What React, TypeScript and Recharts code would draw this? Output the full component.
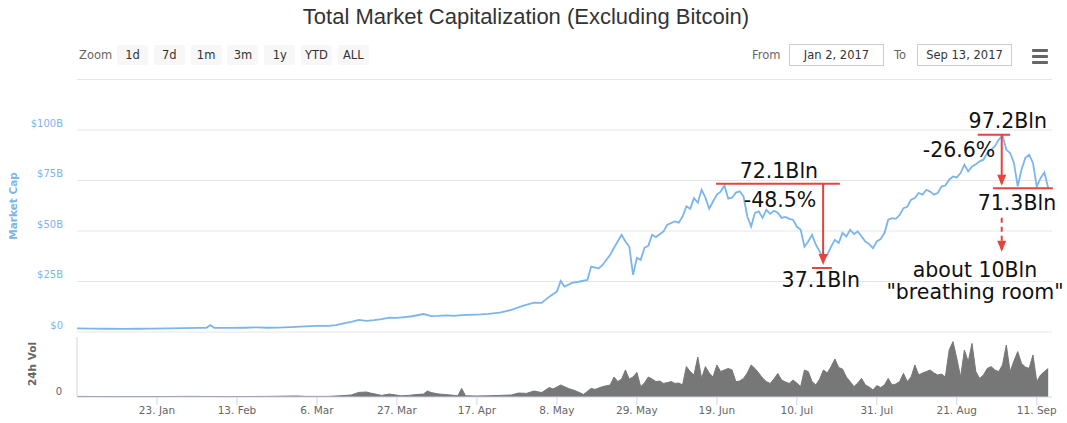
import React from 'react'
import {
  LineChart,
  Line,
  AreaChart,
  Area,
  XAxis,
  YAxis,
  CartesianGrid,
  ReferenceLine,
  ReferenceDot,
} from 'recharts'

// days counted from 2 Jan 2017
const capDays = [
  0, 4, 8, 12, 16, 20, 24, 28, 32, 34, 35, 36, 40, 44, 47, 50, 53, 56, 60, 63,
  66, 68, 70, 72, 74, 76, 78, 80, 82, 84, 86, 88, 91, 93, 95, 97, 99, 101, 103, 106,
  108, 111, 114, 117, 120, 122, 124, 126, 127, 128, 130, 132, 134, 135, 137, 138, 140, 141, 143, 144,
  145, 146, 147, 148, 149, 150, 151, 152, 154, 155, 157, 158, 159, 160, 161, 162, 163, 164, 165, 166,
  167, 168, 169, 170, 171, 172, 173, 174, 175, 176, 177, 178, 179, 180, 181, 182, 183, 184, 185, 186,
  187, 188, 189, 190, 191, 192, 193, 194, 195, 196, 197, 198, 199, 200, 201, 202, 203, 204, 205, 206,
  207, 208, 209, 210, 211, 212, 213, 214, 215, 216, 217, 218, 219, 220, 221, 222, 223, 224, 225, 226,
  227, 228, 229, 230, 231, 232, 233, 234, 235, 236, 237, 238, 239, 240, 241, 242, 243, 244, 245, 246,
  247, 248, 249, 250, 251, 252, 253, 254, 255,
]
// market cap, $B
const capValues = [
  1.8, 1.7, 1.6, 1.5, 1.6, 1.7, 1.8, 1.9, 2.0, 2.1, 3.4, 2.1, 2.0, 2.1, 2.3, 2.1, 2.2, 2.4, 2.8, 3.0,
  3.0, 3.4, 4.3, 5.0, 6.0, 5.5, 5.9, 6.4, 7.1, 7.0, 7.4, 7.8, 8.9, 7.9, 8.0, 8.2, 8.0, 8.4, 8.5, 8.7,
  9.0, 9.6, 10.9, 12.9, 14.5, 14.4, 17.5, 20.0, 25.3, 22.5, 24.3, 25.0, 25.8, 32.4, 31.5, 33.2, 38.2, 41.7, 48.1, 44.8,
  42.3, 28.3, 36.7, 35.7, 41.7, 42.7, 48.1, 47.0, 49.8, 53.1, 54.7, 54.1, 57.2, 62.2, 61.0, 66.3, 64.0, 70.4, 66.5, 61.0,
  64.6, 68.0, 69.5, 72.4, 66.0, 66.5, 69.0, 69.6, 67.1, 57.2, 52.2, 59.0, 59.7, 56.5, 60.5, 58.5, 60.0, 59.0, 56.5, 57.0,
  56.0, 55.6, 52.2, 50.6, 42.3, 44.8, 48.1, 43.2, 39.8, 36.0, 38.2, 42.3, 45.6, 44.1, 49.1, 47.3, 50.6, 48.5, 49.8, 47.3,
  44.8, 43.5, 41.5, 44.8, 46.0, 49.0, 55.6, 56.4, 56.0, 58.0, 61.3, 62.0, 65.5, 66.3, 68.8, 68.0, 70.4, 69.5, 68.0, 68.8,
  72.0, 72.5, 75.4, 77.0, 76.5, 78.7, 82.8, 79.5, 82.0, 83.0, 84.5, 85.3, 88.6, 90.3, 92.0, 95.2, 97.2, 90.3, 88.6, 83.8,
  72.1, 80.4, 86.2, 87.8, 83.7, 72.1, 76.2, 79.0, 71.3,
]

const volDays = [
  0, 10, 20, 30, 40, 50, 58, 60, 66, 69, 72, 74, 76, 77, 79, 80, 82, 85, 87, 89,
  91, 92, 93, 95, 98, 100, 101, 102, 105, 108, 111, 114, 116, 118, 120, 122, 124, 125, 127, 129,
  131, 133, 135, 136, 138, 140, 141, 142, 143, 144, 145, 146, 147, 148, 149, 150, 151, 152, 153, 154,
  155, 156, 157, 158, 159, 160, 161, 162, 163, 164, 165, 166, 167, 168, 169, 170, 171, 172, 173, 174,
  175, 176, 177, 178, 179, 180, 181, 182, 183, 184, 185, 186, 187, 188, 189, 190, 191, 192, 193, 194,
  195, 196, 197, 198, 199, 200, 201, 202, 203, 204, 205, 206, 207, 208, 209, 210, 211, 212, 213, 214,
  215, 216, 217, 218, 219, 220, 221, 222, 223, 224, 225, 226, 227, 228, 229, 230, 231, 232, 233, 234,
  235, 236, 237, 238, 239, 240, 241, 242, 243, 244, 245, 246, 247, 248, 249, 250, 251, 252, 253, 254,
  255,
]
// 24h volume, $B
const volValues = [
  0.03, 0.02, 0.02, 0.03, 0.02, 0.03, 0.05, 0.03, 0.03, 0.06, 0.1, 0.23, 0.25, 0.2, 0.12, 0.08, 0.15, 0.06, 0.08, 0.12,
  0.15, 0.3, 0.22, 0.15, 0.1, 0.06, 0.43, 0.06, 0.05, 0.06, 0.08, 0.1, 0.2, 0.18, 0.3, 0.22, 0.47, 0.4, 0.6, 0.43,
  0.3, 0.13, 0.43, 0.38, 0.52, 0.6, 1.0, 0.77, 0.9, 1.35, 0.9, 1.0, 1.23, 0.52, 0.7, 1.0, 0.9, 0.77, 0.8, 0.68,
  0.72, 0.77, 0.68, 0.7, 0.6, 1.52, 1.27, 1.1, 2.0, 0.93, 1.52, 1.2, 1.0, 1.6, 1.27, 1.35, 1.43, 1.35, 0.77, 0.8,
  0.93, 1.2, 1.6, 1.43, 1.2, 0.95, 0.77, 0.68, 0.9, 1.18, 0.85, 0.75, 0.68, 0.85, 0.7, 0.52, 1.35, 1.27, 0.77, 0.6,
  0.9, 1.35, 1.2, 1.52, 1.9, 1.47, 1.4, 1.0, 0.77, 0.52, 0.7, 0.93, 0.6, 0.5, 0.35, 0.57, 0.47, 0.6, 0.93, 0.6,
  0.65, 0.77, 1.18, 0.77, 1.0, 1.6, 1.1, 1.2, 1.27, 1.35, 1.2, 1.1, 1.15, 1.0, 2.35, 2.77, 1.93, 1.0, 2.35, 1.77,
  2.68, 1.27, 0.93, 1.1, 1.43, 1.52, 1.35, 1.27, 1.6, 2.6, 1.27, 1.8, 2.27, 1.68, 1.5, 1.43, 2.1, 0.77, 1.1, 1.27,
  1.43,
]

const tickDays = [21, 42, 63, 84, 105, 126, 147, 168, 189, 210, 231, 252]
const tickLabels = [
  '23. Jan', '13. Feb', '6. Mar', '27. Mar', '17. Apr', '8. May',
  '29. May', '19. Jun', '10. Jul', '31. Jul', '21. Aug', '11. Sep',
]
const capTicks = [0, 25, 50, 75, 100, 125]
const capTickLabels = ['$0', '$25B', '$50B', '$75B', '$100B', '']
const zoomButtons = ['1d', '7d', '1m', '3m', '1y', 'YTD', 'ALL']

// hand-drawn red annotations, in chart units (day, $B)
const redSegments = [
  [167.8, 73.4, 200.3, 73.4],
  [195.9, 73.4, 195.9, 34.5],
  [193, 31.7, 198.2, 31.7],
  [236.5, 97.7, 245, 97.7],
  [242.8, 97.7, 242.8, 73.5],
  [240.5, 71.2, 256.2, 71.2],
]
const arrowTips = [
  [195.9, 33.2],
  [242.8, 72.4],
  [242.8, 39.7],
]
const notes = [
  { text: '72.1Bln', day: 184.3, value: 76.4 },
  { text: '-48.5%', day: 184.6, value: 62.0 },
  { text: '37.1Bln', day: 195.3, value: 22.3 },
  { text: '97.2Bln', day: 244.4, value: 101.2 },
  { text: '-26.6%', day: 231.6, value: 86.8 },
  { text: '71.3Bln', day: 246.8, value: 60.5 },
  { text: 'about 10Bln', day: 235.8, value: 27.3 },
  { text: '"breathing room"', day: 235.8, value: 16.4 },
]

const capData = capDays.map((d, i) => ({ day: d, cap: capValues[i] }))
const volData = volDays.map((d, i) => ({ day: d, vol: volValues[i] }))

const UI_FONT = '"DejaVu Sans", Verdana, sans-serif'
const BLUE = '#7cb5ec'
const RED = '#e5443d'

const CapTick = (props: any) => {
  const idx = capTicks.indexOf(props.payload.value)
  return (
    <text x={63} y={props.y - 3.5} textAnchor="end" fill={BLUE} fontSize={10} fontFamily={UI_FONT}>
      {capTickLabels[idx]}
    </text>
  )
}

const VolTick = (props: any) => (
  <text x={62} y={props.y - 2} textAnchor="end" fill="#666" fontSize={10} fontFamily={UI_FONT}>
    {props.payload.value}
  </text>
)

const Arrowhead = (props: any) => (
  <path
    d={`M${props.cx},${props.cy} L${props.cx - 4.5},${props.cy - 11} L${props.cx + 4.5},${props.cy - 11} Z`}
    fill={RED}
  />
)

const noteShape = (text: string) => (props: any) => (
  <text x={props.cx} y={props.cy} textAnchor="middle" fill="#111" fontSize={20.5} fontFamily={UI_FONT}>
    {text}
  </text>
)

const abs = (s: React.CSSProperties): React.CSSProperties => ({ position: 'absolute', ...s })

export default function App() {
  return (
    <div style={abs({ left: 0, top: 0, width: 1067, height: 423, background: '#fff', overflow: 'hidden' })}>
      <div
        style={abs({
          left: 0,
          top: 6,
          width: 1052,
          textAlign: 'center',
          fontFamily: '"Liberation Sans", Arial, sans-serif',
          fontSize: 22,
          lineHeight: '22px',
          color: '#333',
        })}
      >
        Total Market Capitalization (Excluding Bitcoin)
      </div>

      <div style={abs({ left: 79, top: 45, lineHeight: '20px', fontSize: 11.5, fontFamily: UI_FONT, color: '#666' })}>
        Zoom
      </div>
      {zoomButtons.map((b, i) => (
        <div
          key={b}
          style={abs({
            left: 117 + i * 36.8,
            top: 45,
            width: 31,
            height: 20,
            lineHeight: '20px',
            textAlign: 'center',
            background: '#f7f7f7',
            borderRadius: 2,
            fontSize: 11.5,
            fontFamily: UI_FONT,
            color: '#333',
          })}
        >
          {b}
        </div>
      ))}

      <div style={abs({ left: 752, top: 45, lineHeight: '20px', fontSize: 11.5, fontFamily: UI_FONT, color: '#666' })}>
        From
      </div>
      <div
        style={abs({
          left: 789,
          top: 44,
          width: 93,
          height: 20,
          lineHeight: '20px',
          border: '1px solid #ccc',
          textAlign: 'center',
          fontSize: 11.5,
          fontFamily: UI_FONT,
          color: '#333',
        })}
      >
        Jan 2, 2017
      </div>
      <div style={abs({ left: 894, top: 45, lineHeight: '20px', fontSize: 11.5, fontFamily: UI_FONT, color: '#666' })}>
        To
      </div>
      <div
        style={abs({
          left: 917,
          top: 44,
          width: 93,
          height: 20,
          lineHeight: '20px',
          border: '1px solid #ccc',
          textAlign: 'center',
          fontSize: 11.5,
          fontFamily: UI_FONT,
          color: '#333',
        })}
      >
        Sep 13, 2017
      </div>
      {[48.5, 54.5, 60.5].map((t) => (
        <div key={t} style={abs({ left: 1032, top: t, width: 16, height: 3, background: '#666', borderRadius: 1 })} />
      ))}

      <div
        style={abs({
          left: 12.5,
          top: 206,
          transform: 'translate(-50%, -50%) rotate(-90deg)',
          whiteSpace: 'nowrap',
          fontWeight: 'bold',
          fontSize: 10.5,
          fontFamily: UI_FONT,
          color: BLUE,
        })}
      >
        Market Cap
      </div>
      <div
        style={abs({
          left: 32,
          top: 364,
          transform: 'translate(-50%, -50%) rotate(-90deg)',
          whiteSpace: 'nowrap',
          fontWeight: 'bold',
          fontSize: 10.5,
          fontFamily: UI_FONT,
          color: '#666',
        })}
      >
        24h Vol
      </div>

      <LineChart
        width={1067}
        height={340}
        data={capData}
        margin={{ top: 79.5, right: 15, bottom: 8, left: 0 }}
        style={abs({ left: 0, top: 0 })}
      >
        <CartesianGrid vertical={false} stroke="#e6e6e6" />
        <XAxis dataKey="day" type="number" domain={[0, 256]} hide />
        <YAxis
          type="number"
          domain={[0, 125]}
          ticks={capTicks}
          interval={0}
          width={77}
          axisLine={false}
          tickLine={false}
          tick={CapTick}
        />
        <Line
          type="linear"
          dataKey="cap"
          stroke={BLUE}
          strokeWidth={1.8}
          dot={false}
          isAnimationActive={false}
        />
        {redSegments.map((s, i) => (
          <ReferenceLine
            key={'s' + i}
            segment={[
              { x: s[0], y: s[1] },
              { x: s[2], y: s[3] },
            ]}
            stroke={RED}
            strokeWidth={2}
            ifOverflow="visible"
          />
        ))}
        <ReferenceLine
          segment={[
            { x: 242.8, y: 56.5 },
            { x: 242.8, y: 41 },
          ]}
          stroke={RED}
          strokeWidth={2}
          strokeDasharray="5 4"
          ifOverflow="visible"
        />
        {arrowTips.map((a, i) => (
          <ReferenceDot key={'a' + i} x={a[0]} y={a[1]} r={0} shape={Arrowhead} ifOverflow="visible" />
        ))}
        {notes.map((n) => (
          <ReferenceDot key={n.text} x={n.day} y={n.value} r={0} shape={noteShape(n.text)} ifOverflow="visible" />
        ))}
      </LineChart>

      <AreaChart
        width={1067}
        height={93}
        data={volData}
        margin={{ top: 7, right: 15, bottom: 0, left: 0 }}
        style={abs({ left: 0, top: 330 })}
      >
        <XAxis
          dataKey="day"
          type="number"
          domain={[0, 256]}
          ticks={tickDays}
          interval={0}
          height={26}
          tickSize={8}
          tickFormatter={(d: number) => tickLabels[tickDays.indexOf(d)]}
          tick={{ fill: '#666', fontSize: 10.5, fontFamily: UI_FONT }}
          tickLine={{ stroke: '#ccd6eb' }}
          axisLine={{ stroke: '#ccd6eb' }}
        />
        <YAxis
          type="number"
          domain={[0, 3]}
          ticks={[0]}
          interval={0}
          width={77}
          axisLine={{ stroke: '#ccd6eb' }}
          tickLine={false}
          tick={VolTick}
        />
        <Area
          type="linear"
          dataKey="vol"
          stroke="#777"
          strokeWidth={1}
          fill="#777"
          fillOpacity={1}
          isAnimationActive={false}
        />
      </AreaChart>
    </div>
  )
}
